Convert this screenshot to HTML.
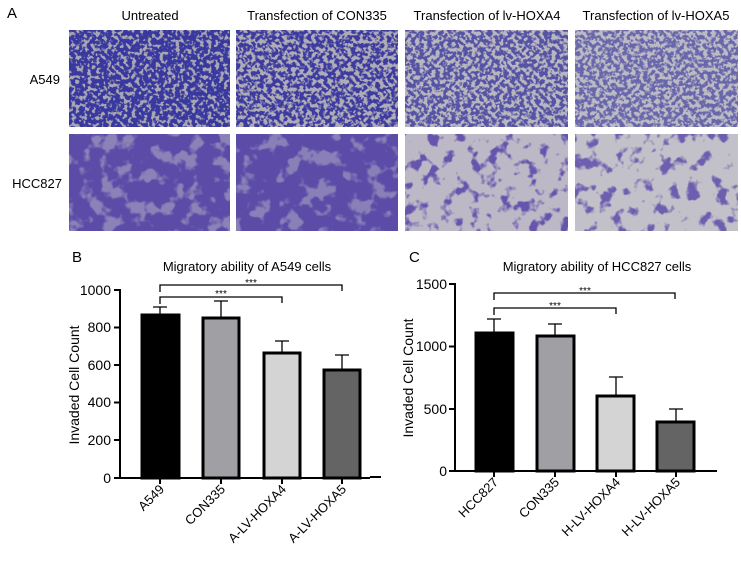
<!DOCTYPE html>
<html><head><meta charset="utf-8"><style>body{margin:0;background:#fff}svg{display:block}</style></head><body>
<svg width="741" height="565" viewBox="0 0 741 565" font-family="Liberation Sans, Arial, sans-serif">
<defs>
<filter id="t1" x="0" y="0" width="100%" height="100%" color-interpolation-filters="sRGB"><feTurbulence type="fractalNoise" baseFrequency="0.25" numOctaves="2" seed="3"/><feColorMatrix type="matrix" values="0 0 0 0 0.22 0 0 0 0 0.22 0 0 0 0 0.62 8 0 0 0 -3.0"/></filter>
<filter id="t2" x="0" y="0" width="100%" height="100%" color-interpolation-filters="sRGB"><feTurbulence type="fractalNoise" baseFrequency="0.25" numOctaves="2" seed="7"/><feColorMatrix type="matrix" values="0 0 0 0 0.24 0 0 0 0 0.23 0 0 0 0 0.62 8 0 0 0 -3.4"/></filter>
<filter id="t3" x="0" y="0" width="100%" height="100%" color-interpolation-filters="sRGB"><feTurbulence type="fractalNoise" baseFrequency="0.06" numOctaves="3" seed="5"/><feColorMatrix type="matrix" values="0 0 0 0 0.36 0 0 0 0 0.30 0 0 0 0 0.66 8 0 0 0 -2.8"/></filter>
<filter id="t4" x="0" y="0" width="100%" height="100%" color-interpolation-filters="sRGB"><feTurbulence type="fractalNoise" baseFrequency="0.07" numOctaves="3" seed="9"/><feColorMatrix type="matrix" values="0 0 0 0 0.40 0 0 0 0 0.33 0 0 0 0 0.68 8 0 0 0 -4.4"/></filter>
</defs>
<g font-size="13">
<text x="7" y="18" font-size="15">A</text>
<text x="150" y="20" text-anchor="middle">Untreated</text>
<text x="317" y="20" text-anchor="middle">Transfection of CON335</text>
<text x="487" y="20" text-anchor="middle">Transfection of  lv-HOXA4</text>
<text x="656" y="20" text-anchor="middle">Transfection of lv-HOXA5</text>
<text x="60" y="84" text-anchor="end">A549</text>
<text x="62" y="188" text-anchor="end">HCC827</text>
</g>
<g>
<rect x="69" y="30" width="161" height="97" fill="#a8a6b4"/><rect x="69" y="30" width="161" height="97" filter="url(#t1)"/>
<rect x="236" y="30" width="162" height="97" fill="#aeacb8"/><rect x="236" y="30" width="162" height="97" filter="url(#t2)"/>
<rect x="405" y="30" width="163" height="97" fill="#b8b6c0"/><rect x="405" y="30" width="163" height="97" filter="url(#t2)" opacity="0.8"/>
<rect x="575" y="30" width="163" height="97" fill="#bcbac4"/><rect x="575" y="30" width="163" height="97" filter="url(#t2)" opacity="0.65"/>
<rect x="69" y="134" width="161" height="97" fill="#8c82b8"/><rect x="69" y="134" width="161" height="97" filter="url(#t3)"/>
<rect x="236" y="134" width="162" height="97" fill="#8a80b8"/><rect x="236" y="134" width="162" height="97" filter="url(#t3)"/>
<rect x="405" y="134" width="163" height="97" fill="#bcb8c6"/><rect x="405" y="134" width="163" height="97" filter="url(#t4)"/>
<rect x="575" y="134" width="163" height="97" fill="#c2c0c8"/><rect x="575" y="134" width="163" height="97" filter="url(#t4)" opacity="0.9"/>
</g>
<!-- Chart B -->
<g stroke="#000" fill="none" stroke-width="2">
<path d="M120 289V478H370"/>
<path d="M114 290H120M114 327.5H120M114 365H120M114 402.5H120M114 440H120M114 478H120"/>
<path d="M160 478v6M221 478v6M282 478v6M342 478v6"/>
</g>
<g stroke="#000" stroke-width="3">
<rect x="142" y="315" width="37" height="163" fill="#000"/>
<rect x="203" y="318" width="36" height="160" fill="#a0a0a4"/>
<rect x="264" y="353" width="36" height="125" fill="#d4d4d4"/>
<rect x="324" y="370" width="36" height="108" fill="#646464"/>
</g>
<g stroke="#000" stroke-width="1.3" fill="none">
<path d="M160 315V307M153 307H167M221 318V301M214 301H228M282 353V341M275 341H289M342 370V355M335 355H349"/>
<path d="M160 292V285H342V291M160 304V297H282V303"/>
</g>
<g font-size="14" text-anchor="end">
<text x="111" y="295">1000</text><text x="111" y="332">800</text><text x="111" y="370">600</text><text x="111" y="407">400</text><text x="111" y="445">200</text><text x="111" y="483">0</text>
</g>
<text x="251" y="286" font-size="10" text-anchor="middle">***</text>
<text x="221" y="297" font-size="10" text-anchor="middle">***</text>
<text x="247" y="271" font-size="13" text-anchor="middle">Migratory ability of A549 cells</text>
<text x="72" y="262" font-size="15">B</text>
<text transform="translate(79 385) rotate(-90)" font-size="14" text-anchor="middle">Invaded Cell Count</text>
<g font-size="13" text-anchor="end">
<text transform="translate(165 490) rotate(-45)">A549</text>
<text transform="translate(226 490) rotate(-45)">CON335</text>
<text transform="translate(287 490) rotate(-45)">A-LV-HOXA4</text>
<text transform="translate(347 490) rotate(-45)">A-LV-HOXA5</text>
</g>
<!-- Chart C -->
<g stroke="#000" fill="none" stroke-width="2">
<path d="M455 283V471H717"/>
<path d="M449 284H455M449 346.5H455M449 409H455M449 471H455"/>
<path d="M494 471v6M555 471v6M616 471v6M676 471v6"/>
</g>
<g stroke="#000" stroke-width="3">
<rect x="476" y="333" width="37" height="138" fill="#000"/>
<rect x="537" y="336" width="37" height="135" fill="#a0a0a4"/>
<rect x="597" y="396" width="37" height="75" fill="#d4d4d4"/>
<rect x="657" y="422" width="37" height="49" fill="#646464"/>
</g>
<g stroke="#000" stroke-width="1.3" fill="none">
<path d="M494 333V319M487 319H501M555 336V324M548 324H562M616 396V377M609 377H623M676 422V409M669 409H683"/>
<path d="M494 300V293H675V299M494 315V308H616V314"/>
</g>
<g font-size="14" text-anchor="end">
<text x="447" y="289">1500</text><text x="447" y="351">1000</text><text x="447" y="414">500</text><text x="447" y="476">0</text>
</g>
<text x="585" y="294" font-size="10" text-anchor="middle">***</text>
<text x="555" y="309" font-size="10" text-anchor="middle">***</text>
<text x="597" y="271" font-size="13" text-anchor="middle">Migratory ability of HCC827 cells</text>
<text x="409" y="262" font-size="15">C</text>
<text transform="translate(413 378) rotate(-90)" font-size="14" text-anchor="middle">Invaded Cell Count</text>
<g font-size="13" text-anchor="end">
<text transform="translate(499 483) rotate(-45)">HCC827</text>
<text transform="translate(560 483) rotate(-45)">CON335</text>
<text transform="translate(621 483) rotate(-45)">H-LV-HOXA4</text>
<text transform="translate(681 483) rotate(-45)">H-LV-HOXA5</text>
</g>
<path d="M370 477H381" stroke="#000" stroke-width="2"/>
</svg>
</body></html>
